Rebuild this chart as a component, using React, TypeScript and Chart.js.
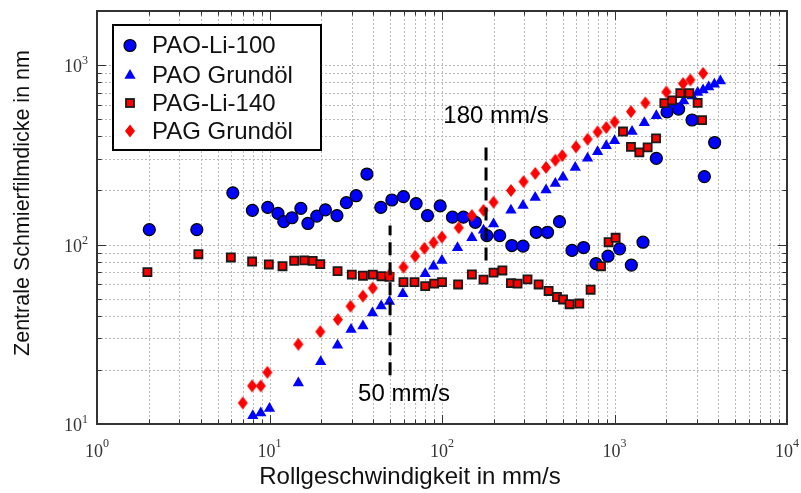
import React, { useEffect, useRef } from "react";
import { Chart, registerables } from "chart.js";

Chart.register(...registerables);

// ---------- data ----------
const seriesNames = ["PAO-Li-100", "PAO Grundöl", "PAG-Li-140", "PAG Grundöl"];

const paoLi100X = [2.01, 3.79, 6.13, 7.96, 9.77, 11.2, 12.1, 13.5, 15.2, 16.7, 18.8, 21.1, 24.6, 27.9, 31.8, 36.7, 44.2, 51.2, 59.8, 70.8, 82.4, 97.6, 115, 133, 156, 182, 216, 254, 295, 352, 409, 480, 567, 662, 781, 917, 1071, 1252, 1463, 1748, 2016, 2354, 2815, 3319, 3807];
const paoLi100Y = [121, 121, 194, 155, 161, 149, 134, 141, 159, 131, 144, 156, 145, 171, 187, 247, 161, 177, 185, 169, 145, 164, 142, 142, 133, 112, 112, 98.7, 98, 117, 117, 134, 92.7, 96.2, 78.2, 86.1, 94.6, 76.8, 103, 302, 548, 568, 494, 239, 370];

const paoGrundX = [8.0, 8.9, 10.0, 14.7, 19.8, 24.8, 29.7, 34.8, 39.5, 44.4, 49.6, 59.3, 79.9, 89.3, 99.9, 123, 149, 174, 199, 251, 295, 347, 401, 454, 503, 592, 698, 798, 896, 1001, 1264, 1489, 1748, 2016, 2202, 2517, 2815, 3034, 3262, 3515, 3793, 4110];
const paoGrundY = [11.1, 11.5, 12.2, 16.9, 22.2, 27.5, 33.6, 35.2, 41.5, 45.4, 48.2, 53.2, 68.7, 75.7, 81.5, 95.8, 109, 120, 130, 155, 165, 183, 201, 219, 237, 269, 302, 329, 355, 378, 426, 477, 521, 580, 605, 631, 673, 702, 726, 755, 781, 815];

const pagLi140X = [1.96, 3.87, 5.97, 7.93, 9.91, 11.9, 13.9, 15.9, 17.8, 19.7, 24.8, 30.0, 34.8, 39.7, 44.6, 49.6, 59.8, 69.3, 79.9, 90.1, 100, 124, 149, 174, 199, 224, 251, 274, 313, 363, 415, 464, 503, 549, 625, 727, 835, 924, 1015, 1120, 1246, 1393, 1556, 1741, 1945, 2155, 2408, 2716, 3034, 3218];
const pagLi140Y = [70.2, 88.3, 84.7, 80.4, 77.4, 75.7, 81.2, 81.6, 81, 77.8, 71.1, 67.9, 67, 68, 66.6, 66, 61.7, 61.7, 58.6, 60.5, 61.7, 59.9, 68.1, 63.7, 69.7, 71.7, 60.9, 60.5, 63.9, 59.9, 55.1, 51, 49.4, 46.5, 46.9, 56, 75.7, 103, 109, 426, 350, 326, 348, 390, 613, 636, 697, 697, 615, 493];

const pagGrundX = [7.0, 7.93, 8.9, 9.72, 14.7, 19.7, 24.9, 29.5, 34.8, 39.7, 49.6, 59.8, 69.9, 79.1, 89.3, 99.9, 125, 149, 174, 199, 251, 297, 347, 401, 454, 498, 598, 698, 798, 896, 1001, 1246, 1509, 1998, 2496, 2753, 3262];
const pagGrundY = [13.1, 16.3, 16.3, 19.4, 27.8, 32.7, 38.2, 45.3, 51.6, 57.2, 67.9, 74.8, 86.1, 95.3, 102.6, 110, 124, 145, 155, 172, 200, 224, 249, 269, 295, 313, 350, 386, 424, 449, 482, 550, 615, 708, 788, 826, 899];

// vertical marker lines (speed, from/to film thickness)
const markerSpeeds = [50, 180];
const markerFrom = [18.7, 81.5];
const markerTo = [127.5, 378];
const markerTexts = ["50 mm/s", "180 mm/s"];

// axes
const xMin = 1, xMax = 10000, yMin = 10, yMax = 2000;
const xMajorValues = [1, 10, 100, 1000, 10000];
const xExponents = ["0", "1", "2", "3", "4"];
const yMajorValues = [10, 100, 1000];
const yExponents = ["1", "2", "3"];
const mantissas = [1, 2, 3, 4, 5, 6, 7, 8, 9];
const xTitle = "Rollgeschwindigkeit in mm/s";
const yTitle = "Zentrale Schmierfilmdicke in nm";

const SANS = '"Liberation Sans", Arial, sans-serif';
const SERIF = '"Liberation Serif", "Times New Roman", serif';

function minorValues(min: number, max: number) {
  const out: number[] = [];
  for (let d = min; d < max; d *= 10) {
    for (const m of mantissas) {
      const v = m * d;
      if (v >= min && v <= max) out.push(v);
    }
  }
  out.push(max);
  return out;
}

function makeDiamond(): HTMLCanvasElement {
  const c = document.createElement("canvas");
  c.width = 12;
  c.height = 15;
  const g = c.getContext("2d")!;
  g.fillStyle = "#ff0000";
  g.beginPath();
  g.moveTo(6, 1);
  g.lineTo(11, 7.5);
  g.lineTo(6, 14);
  g.lineTo(1, 7.5);
  g.closePath();
  g.fill();
  return c;
}

function drawLegendMarker(ctx: CanvasRenderingContext2D, kind: number, x: number, y: number) {
  ctx.save();
  ctx.setLineDash([]);
  if (kind === 0) {
    ctx.beginPath();
    ctx.arc(x, y, 6, 0, Math.PI * 2);
    ctx.fillStyle = "#0000ff";
    ctx.fill();
    ctx.lineWidth = 1.2;
    ctx.strokeStyle = "#000";
    ctx.stroke();
  } else if (kind === 1) {
    const r = 6.5;
    ctx.beginPath();
    ctx.moveTo(x, y - r);
    ctx.lineTo(x + 0.866 * r, y + 0.5 * r);
    ctx.lineTo(x - 0.866 * r, y + 0.5 * r);
    ctx.closePath();
    ctx.fillStyle = "#0000ff";
    ctx.fill();
  } else if (kind === 2) {
    ctx.fillStyle = "#ff0000";
    ctx.fillRect(x - 4, y - 4, 8, 8);
    ctx.lineWidth = 1.8;
    ctx.strokeStyle = "#1a1a1a";
    ctx.strokeRect(x - 4, y - 4, 8, 8);
  } else {
    ctx.beginPath();
    ctx.moveTo(x, y - 6.5);
    ctx.lineTo(x + 5, y);
    ctx.lineTo(x, y + 6.5);
    ctx.lineTo(x - 5, y);
    ctx.closePath();
    ctx.fillStyle = "#ff0000";
    ctx.fill();
  }
  ctx.restore();
}

const framePlugin = {
  id: "matlabFrame",
  beforeDatasetsDraw(chart: any) {
    const { ctx, chartArea: a, scales } = chart;
    const xs = scales.x, ys = scales.y;
    ctx.save();
    ctx.strokeStyle = "#b8b8b8";
    ctx.lineWidth = 1;
    ctx.setLineDash([2, 2]);
    for (const v of minorValues(xMin, xMax)) {
      const p = Math.round(xs.getPixelForValue(v)) + 0.5;
      if (p <= a.left + 1 || p >= a.right - 1) continue;
      ctx.beginPath();
      ctx.moveTo(p, a.top);
      ctx.lineTo(p, a.bottom);
      ctx.stroke();
    }
    for (const v of minorValues(yMin, yMax)) {
      const p = Math.round(ys.getPixelForValue(v)) + 0.5;
      if (p <= a.top + 1 || p >= a.bottom - 1) continue;
      ctx.beginPath();
      ctx.moveTo(a.left, p);
      ctx.lineTo(a.right, p);
      ctx.stroke();
    }
    ctx.restore();
  },
  afterDatasetsDraw(chart: any) {
    const { ctx, chartArea: a, scales } = chart;
    const xs = scales.x, ys = scales.y;
    ctx.save();
    ctx.setLineDash([]);
    // ticks
    ctx.strokeStyle = "#333";
    ctx.lineWidth = 1;
    for (const v of minorValues(xMin, xMax)) {
      const p = Math.round(xs.getPixelForValue(v)) + 0.5;
      const len = xMajorValues.includes(v) ? 9 : 4.5;
      ctx.beginPath();
      ctx.moveTo(p, a.bottom);
      ctx.lineTo(p, a.bottom - len);
      ctx.moveTo(p, a.top);
      ctx.lineTo(p, a.top + len);
      ctx.stroke();
    }
    for (const v of minorValues(yMin, yMax)) {
      const p = Math.round(ys.getPixelForValue(v)) + 0.5;
      const len = yMajorValues.includes(v) ? 9 : 4.5;
      ctx.beginPath();
      ctx.moveTo(a.left, p);
      ctx.lineTo(a.left + len, p);
      ctx.moveTo(a.right, p);
      ctx.lineTo(a.right - len, p);
      ctx.stroke();
    }
    // box
    ctx.lineWidth = 2;
    ctx.strokeStyle = "#333";
    ctx.strokeRect(a.left, a.top, a.right - a.left, a.bottom - a.top);

    // tick labels
    ctx.fillStyle = "#333";
    ctx.textBaseline = "alphabetic";
    xMajorValues.forEach((v, i) => {
      const p = xs.getPixelForValue(v);
      ctx.font = `18px ${SERIF}`;
      const w1 = ctx.measureText("10").width;
      ctx.font = `12px ${SERIF}`;
      const w2 = ctx.measureText(xExponents[i]).width;
      const x0 = p - (w1 + w2) / 2;
      ctx.textAlign = "left";
      ctx.font = `18px ${SERIF}`;
      ctx.fillText("10", x0, a.bottom + 33);
      ctx.font = `12px ${SERIF}`;
      ctx.fillText(xExponents[i], x0 + w1, a.bottom + 23);
    });
    yMajorValues.forEach((v, i) => {
      const p = ys.getPixelForValue(v);
      ctx.font = `12px ${SERIF}`;
      const w2 = ctx.measureText(yExponents[i]).width;
      const right = a.left - 9;
      ctx.textAlign = "right";
      ctx.fillText(yExponents[i], right, p - 1);
      ctx.font = `18px ${SERIF}`;
      ctx.fillText("10", right - w2, p + 7);
    });

    // axis titles
    ctx.fillStyle = "#111";
    ctx.font = `24px ${SANS}`;
    ctx.textAlign = "center";
    ctx.textBaseline = "middle";
    ctx.fillText(xTitle, 410, 477);
    ctx.save();
    ctx.translate(23, 203);
    ctx.rotate(-Math.PI / 2);
    ctx.font = `21.5px ${SANS}`;
    ctx.fillText(yTitle, 0, 0);
    ctx.restore();

    // marker texts
    ctx.fillStyle = "#000";
    ctx.font = `24px ${SANS}`;
    {
      const p0 = xs.getPixelForValue(markerSpeeds[0]);
      const b0 = ys.getPixelForValue(markerFrom[0]);
      ctx.fillText(markerTexts[0], p0 + 14, b0 + 19);
      const p1 = xs.getPixelForValue(markerSpeeds[1]);
      const t1 = ys.getPixelForValue(markerTo[1]);
      ctx.fillText(markerTexts[1], p1 + 10, t1 - 24);
    }

    // legend
    const lx = 113, ly = 25, lw = 208, lh = 125;
    ctx.fillStyle = "#fff";
    ctx.fillRect(lx, ly, lw, lh);
    ctx.lineWidth = 2;
    ctx.strokeStyle = "#000";
    ctx.strokeRect(lx, ly, lw, lh);
    const rows = [45.5, 75.5, 103, 131];
    ctx.textAlign = "left";
    ctx.textBaseline = "middle";
    ctx.font = `24px ${SANS}`;
    seriesNames.forEach((name, i) => {
      drawLegendMarker(ctx, i, 130, rows[i]);
      ctx.fillStyle = "#111";
      ctx.fillText(name, 152, rows[i] + 1);
    });
    ctx.restore();
  },
};

function pts(xs: number[], ys: number[]) {
  return xs.map((x, i) => ({ x, y: ys[i] }));
}

export default function App() {
  const ref = useRef<HTMLCanvasElement | null>(null);
  useEffect(() => {
    if (!ref.current) return;
    const diamond = makeDiamond();
    const lineSets = markerSpeeds.map((s, i) => ({
      type: "line" as const,
      data: [
        { x: s, y: markerFrom[i] },
        { x: s, y: markerTo[i] },
      ],
      borderColor: "#000",
      borderWidth: 3,
      borderDash: [13, 7],
      pointRadius: 0,
      showLine: true,
      fill: false,
      order: -1,
    }));
    const chart = new Chart(ref.current, {
      type: "scatter",
      data: {
        datasets: [
          {
            label: seriesNames[0],
            data: pts(paoLi100X, paoLi100Y),
            pointStyle: "circle",
            pointRadius: 6,
            backgroundColor: "#0000ff",
            borderColor: "#000",
            borderWidth: 1.2,
            order: 4,
          },
          {
            label: seriesNames[1],
            data: pts(paoGrundX, paoGrundY),
            pointStyle: "triangle",
            pointRadius: 6.5,
            backgroundColor: "#0000ff",
            borderColor: "#0000ff",
            borderWidth: 0,
            order: 3,
          },
          {
            label: seriesNames[2],
            data: pts(pagLi140X, pagLi140Y),
            pointStyle: "rect",
            pointRadius: 5.7,
            backgroundColor: "#ff0000",
            borderColor: "#1a1a1a",
            borderWidth: 1.8,
            order: 2,
          },
          {
            label: seriesNames[3],
            data: pts(pagGrundX, pagGrundY),
            pointStyle: diamond as any,
            pointRadius: 6,
            backgroundColor: "#ff0000",
            borderWidth: 0,
            order: 1,
          },
          ...(lineSets as any[]),
        ],
      },
      options: {
        responsive: false,
        animation: false,
        events: [],
        layout: { padding: { top: 11, right: 14, left: 0, bottom: 0 } },
        plugins: {
          legend: { display: false },
          tooltip: { enabled: false },
          title: { display: false },
        },
        scales: {
          x: {
            type: "logarithmic",
            min: xMin,
            max: xMax,
            ticks: { display: false },
            grid: { display: false },
            border: { display: false },
            afterFit: (s: any) => {
              s.height = 69;
            },
          },
          y: {
            type: "logarithmic",
            min: yMin,
            max: yMax,
            ticks: { display: false },
            grid: { display: false },
            border: { display: false },
            afterFit: (s: any) => {
              s.width = 97;
            },
          },
        },
      } as any,
      plugins: [framePlugin],
    });
    return () => chart.destroy();
  }, []);
  return (
    <div style={{ position: "absolute", left: 0, top: 0, width: 801, height: 493, background: "#fff" }}>
      <canvas ref={ref} width={801} height={493} style={{ display: "block" }} />
    </div>
  );
}
